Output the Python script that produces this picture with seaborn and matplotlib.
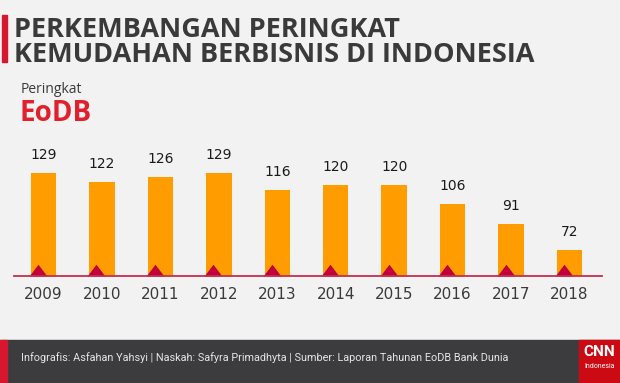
import numpy as np
import matplotlib
matplotlib.use('Agg')
import matplotlib.pyplot as plt
from matplotlib.patches import Rectangle
import seaborn as sns

# data
years = ['2009', '2010', '2011', '2012', '2013', '2014', '2015', '2016', '2017', '2018']
ranks = [129, 122, 126, 129, 116, 120, 120, 106, 91, 72]

title_lines = ['PERKEMBANGAN PERINGKAT', 'KEMUDAHAN BERBISNIS DI INDONESIA']
credit = 'Infografis: Asfahan Yahsyi | Naskah: Safyra Primadhyta | Sumber: Laporan Tahunan EoDB Bank Dunia'

bg = '#f2f2f2'
orange = '#ff9d00'
crimson = '#c1003d'
red = '#e0202c'
dark = '#3a3a3a'

W, H = 620, 383
fig = plt.figure(figsize=(6.2, 3.83), dpi=100, facecolor=bg)

# chart area (baseline at y=275 px)
ax = fig.add_axes([14 / W, 1 - 275.5 / H, 588 / W, 145.5 / H])
ax.set_facecolor(bg)
sns.barplot(x=years, y=ranks, color=orange, saturation=1, width=0.436, ax=ax)

# the original bars are not drawn from zero, so start the axis higher
y0 = 53
ax.set_ylim(y0, y0 + 145.5 / 1.35)
ax.set_xlim(-0.505, 9.557)

ax.bar_label(ax.containers[0], labels=[str(r) for r in ranks], padding=8,
             fontsize=10, color='#1a1a1a', family='DejaVu Sans')

# little triangles at the foot of each bar
tri = [(-7, 0), (7, 0), (0, 9.3)]
xs = np.arange(len(years)) - 0.094
ax.plot(xs, [y0] * len(years), ls='none', marker=tri, ms=17,
        color=crimson, mec='none', clip_on=False, zorder=4)

ax.axhline(y0, color='#c2304f', lw=1.3, zorder=5, clip_on=False)

for s in ax.spines.values():
    s.set_visible(False)
ax.set_yticks([])
ax.set_xlabel('')
ax.set_ylabel('')
ax.tick_params(axis='x', length=0, pad=8, labelsize=11, labelcolor=dark)

# header
fig.patches.append(Rectangle((2 / W, 1 - 62 / H), 4.5 / W, 47 / H,
                             transform=fig.transFigure, color='#d7172f'))
fig.text(14 / W, 1 - 37 / H, title_lines[0], fontsize=19.5, fontweight='bold',
         family='Open Sans', color=dark, va='baseline')
fig.text(14 / W, 1 - 61.5 / H, title_lines[1], fontsize=19.5, fontweight='bold',
         family='Open Sans', color=dark, va='baseline')
fig.text(21 / W, 1 - 93 / H, 'Peringkat', fontsize=10, family='Open Sans',
         color=dark, va='baseline')
fig.text(20 / W, 1 - 120.7 / H, 'EoDB', fontsize=20, fontweight='bold',
         family='Open Sans', color=red, va='baseline')

# footer
fig.patches.append(Rectangle((0, 0), 1, 43 / H, transform=fig.transFigure,
                             color='#3c3c3e'))
fig.patches.append(Rectangle((0, 0), 6.5 / W, 43 / H, transform=fig.transFigure,
                             color='#d7172f'))
fig.patches.append(Rectangle((579 / W, 0), 41 / W, 43 / H, transform=fig.transFigure,
                             color='#cc0a14'))
fig.text(21 / W, 1 - 358 / H, credit, fontsize=7.8, family='Roboto',
         color='#e6e6e6', va='center')
fig.text(599.5 / W, 1 - 352 / H, 'CNN', fontsize=11, fontweight='bold',
         family='Roboto', color='white', ha='center', va='center')
fig.text(599.5 / W, 1 - 367 / H, 'Indonesia', fontsize=5, family='Roboto',
         color='white', ha='center', va='center')

fig.savefig('out.png', dpi=100, facecolor=bg)
